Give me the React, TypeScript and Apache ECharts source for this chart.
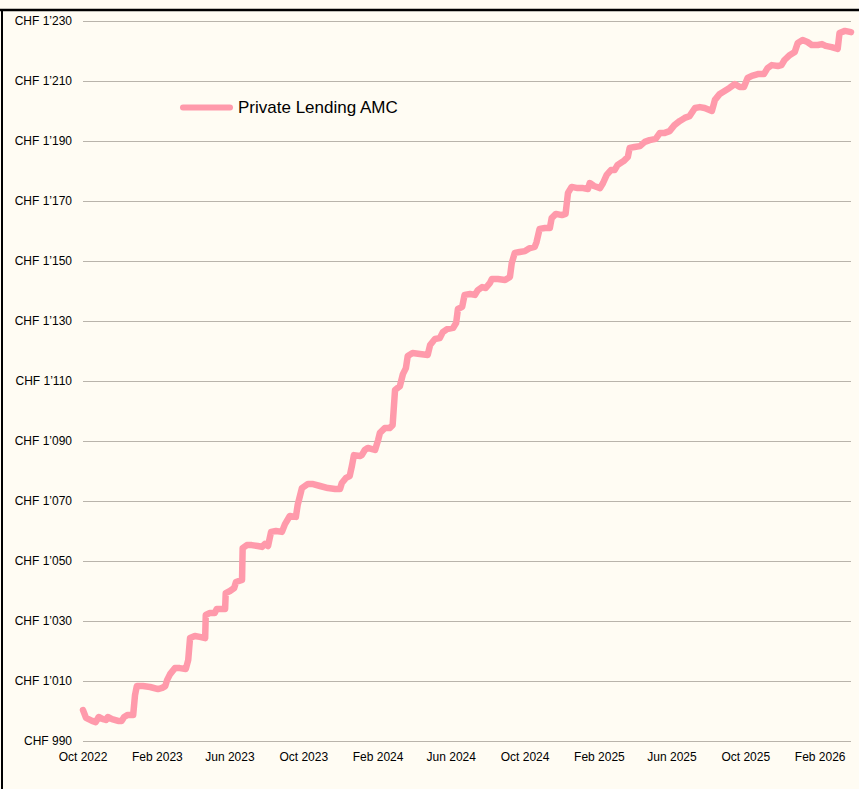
import React, { useEffect, useRef } from "react";
import * as echarts from "echarts";

// Days since 1 Oct 2022 for each sampled point
const dayOffsets = [
  0, 5, 15, 21, 26, 33, 38, 41, 48, 58, 64, 68, 74, 83, 86, 89, 99, 111, 124, 131,
  136, 139, 144, 152, 160, 170, 174, 177, 185, 193, 202, 203, 210, 218, 221, 230, 235, 236, 243, 250,
  253, 263, 264, 271, 279, 289, 296, 301, 306, 311, 319, 329, 334, 342, 352, 355, 362, 372, 379, 392,
  405, 417, 425, 428, 435, 441, 445, 448, 458, 461, 466, 471, 478, 483, 488, 491, 499, 507, 512, 516,
  524, 529, 534, 537, 545, 557, 570, 574, 582, 590, 595, 602, 612, 617, 620, 627, 631, 640, 648, 653,
  660, 666, 673, 676, 686, 698, 706, 709, 714, 722, 731, 739, 747, 750, 755, 764, 772, 775, 782, 792,
  798, 802, 808, 818, 827, 835, 838, 845, 855, 860, 866, 873, 879, 884, 894, 901, 904, 912, 921, 929,
  937, 947, 954, 962, 970, 978, 987, 995, 1003, 1012, 1020, 1028, 1040, 1045, 1053, 1061, 1069, 1078, 1086, 1093,
  1099, 1106, 1116, 1126, 1132, 1139, 1149, 1155, 1160, 1169, 1177, 1182, 1190, 1198, 1205, 1215, 1222, 1228, 1238, 1248,
  1251, 1260, 1270,
];

const navValues = [
  1000.3, 997.7, 996.7, 996.3, 998.0, 997.3, 997.0, 998.0, 997.3, 996.7, 996.7, 998.0, 998.7, 998.7, 1005.3, 1008.3, 1008.3, 1008.0, 1007.3, 1007.7,
  1008.3, 1010.3, 1012.3, 1014.3, 1014.3, 1014.0, 1017.0, 1024.3, 1025.0, 1024.7, 1024.3, 1032.0, 1032.7, 1032.7, 1034.0, 1034.0, 1034.0, 1039.3, 1040.0, 1041.0,
  1043.0, 1043.7, 1054.3, 1055.3, 1055.3, 1055.0, 1054.7, 1055.7, 1055.0, 1059.7, 1060.0, 1059.7, 1062.3, 1065.0, 1064.7, 1068.7, 1074.3, 1075.7, 1075.7, 1075.0,
  1074.3, 1074.0, 1074.0, 1076.0, 1077.7, 1078.3, 1082.0, 1085.3, 1085.0, 1085.3, 1087.0, 1087.7, 1087.3, 1087.0, 1090.3, 1092.7, 1094.3, 1094.3, 1095.3, 1107.0,
  1108.3, 1112.3, 1114.3, 1118.3, 1119.3, 1119.0, 1118.7, 1122.0, 1124.0, 1124.3, 1126.3, 1127.3, 1127.7, 1129.3, 1134.0, 1134.7, 1138.7, 1139.0, 1138.7, 1140.3,
  1141.3, 1141.0, 1142.7, 1144.0, 1144.0, 1143.7, 1144.7, 1149.3, 1152.7, 1153.0, 1153.3, 1154.3, 1154.7, 1156.3, 1160.7, 1161.0, 1161.0, 1164.3, 1165.7, 1165.3,
  1165.7, 1172.7, 1174.7, 1174.3, 1174.3, 1174.0, 1176.0, 1175.0, 1174.3, 1176.0, 1178.7, 1180.3, 1180.3, 1182.0, 1183.3, 1184.7, 1187.7, 1188.0, 1188.3, 1189.7,
  1190.3, 1190.7, 1192.7, 1192.7, 1193.3, 1195.3, 1196.7, 1197.7, 1198.3, 1201.0, 1201.3, 1201.0, 1200.0, 1203.7, 1205.7, 1206.7, 1207.7, 1209.0, 1208.0, 1208.0,
  1211.0, 1211.7, 1212.3, 1212.3, 1214.3, 1215.3, 1215.0, 1215.3, 1217.0, 1218.7, 1219.7, 1222.7, 1223.7, 1223.0, 1222.0, 1222.0, 1222.3, 1221.7, 1221.3, 1220.7,
  1226.0, 1226.7, 1226.3,
];

// Tick positions (days since 1 Oct 2022) and their labels
const tickDayOffsets = [0, 123, 243, 365, 488, 609, 731, 854, 974, 1096, 1219];
const tickLabels = [
  "Oct 2022", "Feb 2023", "Jun 2023", "Oct 2023", "Feb 2024", "Jun 2024",
  "Oct 2024", "Feb 2025", "Jun 2025", "Oct 2025", "Feb 2026",
];

const seriesName = "Private Lending AMC";
const yMin = 990;
const yMax = 1230;
const yStep = 20;

const FONT = 'Helvetica, Arial, "Liberation Sans", sans-serif';

function fmtCHF(v: number): string {
  const n = Math.round(v);
  const s = String(n);
  if (s.length > 3) return "CHF " + s.slice(0, s.length - 3) + "\u2019" + s.slice(s.length - 3);
  return "CHF " + s;
}

export default function App() {
  const ref = useRef<HTMLDivElement>(null);
  useEffect(() => {
    if (!ref.current) return;
    const chart = echarts.init(ref.current, undefined, { renderer: "svg" });
    const data = dayOffsets.map((d, i) => [d, navValues[i]]);

    const labelFor = (v: number) => {
      let best = 0;
      let bd = Infinity;
      tickDayOffsets.forEach((t, i) => {
        const dd = Math.abs(t - v);
        if (dd < bd) { bd = dd; best = i; }
      });
      return tickLabels[best];
    };

    chart.setOption({
      animation: false,
      backgroundColor: "#fffcf3",
      textStyle: { fontFamily: FONT },
      grid: { left: 83, right: 8, top: 21, bottom: 48, containLabel: false },
      legend: {
        left: 180,
        top: 99,
        padding: 0,
        data: [
          {
            name: seriesName,
            icon: "path://M3,0 L50,0 A3,3 0 0 1 50,6 L3,6 A3,3 0 0 1 3,0 Z",
          },
        ],
        itemWidth: 53,
        itemHeight: 6,
        itemGap: 10,
        textStyle: { fontSize: 17, color: "#000", fontFamily: FONT },
      },
      xAxis: {
        type: "value",
        min: 0,
        max: dayOffsets[dayOffsets.length - 1],
        axisLine: { show: false },
        axisTick: { show: false },
        splitLine: { show: false },
        axisLabel: {
          customValues: tickDayOffsets,
          color: "#000",
          fontSize: 12,
          fontFamily: FONT,
          margin: 10,
          hideOverlap: false,
          formatter: (v: number) => labelFor(v),
        },
      },
      yAxis: {
        type: "value",
        min: yMin,
        max: yMax,
        interval: yStep,
        axisLine: { show: false },
        axisTick: { show: false },
        splitLine: { lineStyle: { color: "#b9b4ab", width: 1 } },
        axisLabel: {
          color: "#000",
          fontSize: 12,
          fontFamily: FONT,
          margin: 11,
          formatter: (v: number) => fmtCHF(v),
        },
      },
      series: [
        {
          name: seriesName,
          type: "line",
          data,
          showSymbol: false,
          symbol: "none",
          color: "#ff9aab",
          lineStyle: { width: 6.5, color: "#ff9aab", cap: "round", join: "round" },
        },
      ],
      graphic: [
        {
          type: "line",
          shape: { x1: 0, y1: 10, x2: 859, y2: 10 },
          style: { stroke: "#000", lineWidth: 2.5 },
          z: 100,
        },
        {
          type: "line",
          shape: { x1: 2, y1: 9, x2: 2, y2: 789 },
          style: { stroke: "#000", lineWidth: 2 },
          z: 100,
        },
      ],
    });
    return () => chart.dispose();
  }, []);

  return (
    <div
      ref={ref}
      style={{ position: "absolute", left: 0, top: 0, width: 859, height: 789 }}
    />
  );
}
